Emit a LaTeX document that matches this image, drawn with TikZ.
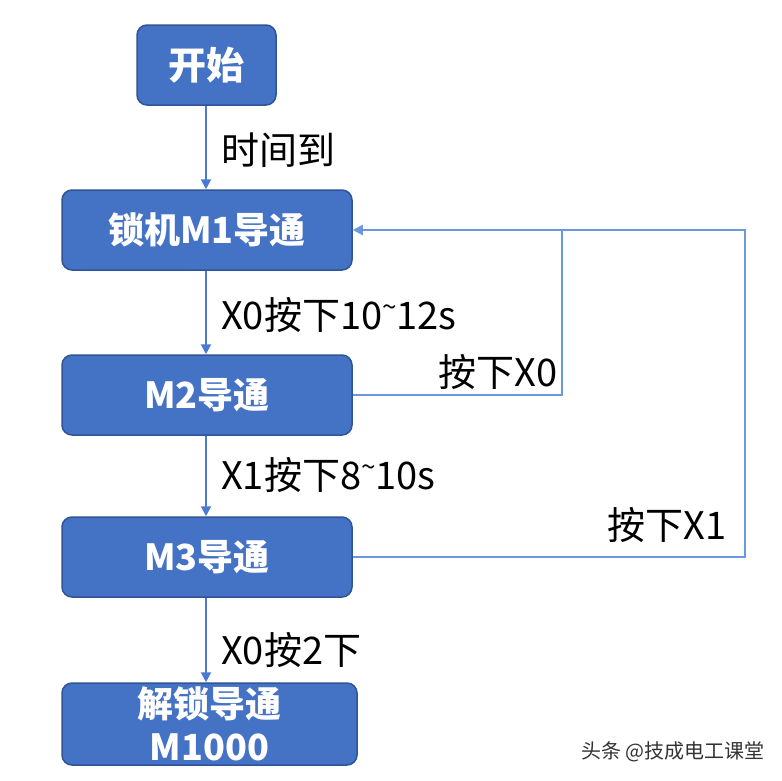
\documentclass[tikz,border=0pt]{standalone}
\usepackage{fontspec}
\setmainfont{Noto Sans CJK SC}
\usetikzlibrary{arrows.meta}
\definecolor{boxfill}{HTML}{4472C4}
\definecolor{boxedge}{HTML}{2F5597}
\definecolor{linkblue}{HTML}{4A7BD0}
\definecolor{fbblue}{HTML}{6A97DE}
\definecolor{wmgray}{HTML}{333333}
\newcommand{\tld}{\raisebox{0.35em}{\fontsize{26}{26}\selectfont\textasciitilde}}
\tikzset{
  stepbox/.style={draw=boxedge, line width=1.5pt, fill=boxfill, rounded corners=10pt,
    text=white, font=\fontsize{36}{40}\selectfont\bfseries, align=center, inner sep=0pt},
  link/.style={draw=linkblue, line width=2pt, -{Triangle[width=10pt,length=10pt]}},
  fb/.style={draw=fbblue, line width=2.2pt},
  lbl/.style={font=\fontsize{38}{40}\selectfont, text=black, inner sep=0pt},
}
\begin{document}
\begin{tikzpicture}[x=1pt,y=-1pt]
\fill[white] (0,0) rectangle (782,780);
\useasboundingbox (0,0) rectangle (782,780);
\node[stepbox, minimum width=139pt, minimum height=80pt, font=\fontsize{38}{40}\selectfont\bfseries] (start) at (206.5,65) {开始};
\node[stepbox, minimum width=290pt, minimum height=80pt] (m1) at (207,230) {锁机M1导通};
\node[stepbox, minimum width=290pt, minimum height=80pt] (m2) at (207,395) {M2导通};
\node[stepbox, minimum width=290pt, minimum height=80pt] (m3) at (207,557) {M3导通};
\node[stepbox, minimum width=295pt, minimum height=82pt, font=\fontsize{36}{43}\selectfont\bfseries] (m4) at (209.5,724) {解锁导通\\M1000};
\coordinate (j1) at (562,230);
\coordinate (j2) at (745,230);
\draw[link] (start.south -| 206,0) -- (m1.north -| 206,0);
\draw[link] (m1.south -| 206,0) -- (m2.north -| 206,0);
\draw[link] (m2.south -| 206,0) -- (m3.north -| 206,0);
\draw[link] (m3.south -| 206,0) -- (m4.north -| 206,0);
\draw[fb] (m2.east) -| (j1);
\draw[fb] (m3.east) -| (j2) -- (j1);
\draw[fb, -{Triangle[width=10pt,length=10pt]}] (j1) -- (m1.east);
\node[lbl, anchor=west] (l1) at (221,150) {时间到};
\node[lbl, anchor=west] (l2) at (221,315) {X0按下10\tld12s};
\node[lbl, anchor=west] (l3) at (221,475) {X1按下8\tld10s};
\node[lbl, anchor=west] (l4) at (221,650) {X0按2下};
\node[lbl, anchor=east] (l5) at (558,372) {按下X0};
\node[lbl, anchor=east] (l6) at (727,525) {按下X1};
\node[anchor=east, inner sep=0pt, text=wmgray, font=\fontsize{20}{22}\selectfont] (wm) at (765,752) {头条 @技成电工课堂};
\end{tikzpicture}
\end{document}
